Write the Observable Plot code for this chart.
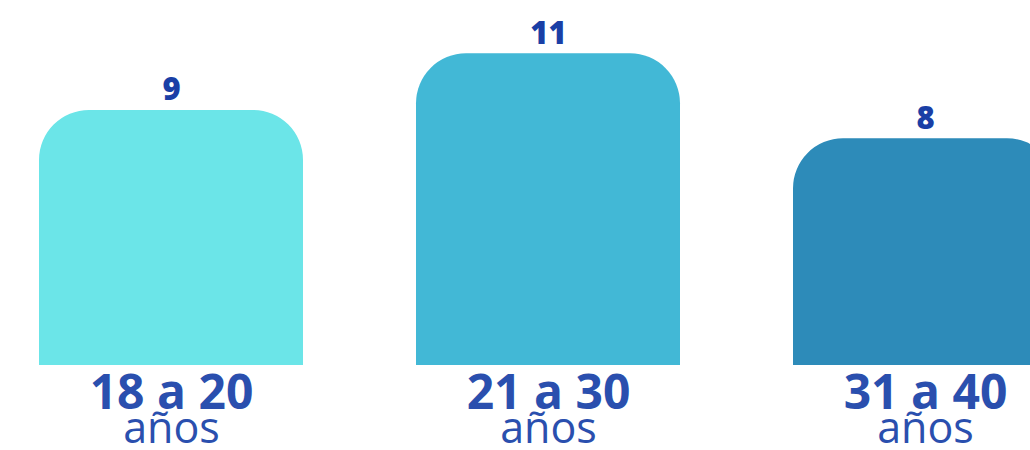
<!DOCTYPE html>
<html>
<head>
<meta charset="utf-8">
<script src="https://cdn.jsdelivr.net/npm/d3@7"></script>
<script src="https://cdn.jsdelivr.net/npm/@observablehq/plot@0.6"></script>
<style>
  html, body { margin: 0; padding: 0; background: #ffffff; overflow: hidden; }
  #chart svg { display: block; }
</style>
</head>
<body>
<div id="chart"></div>
<script>
const categories = ["18 a 20", "21 a 30", "31 a 40"];
const unitLabel = "años";
const values = [9, 11, 8];
const barColors = ["#6BE5E8", "#42B8D6", "#2D8BB9"];

const data = categories.map((c, i) => ({category: c, value: values[i]}));

const chart = Plot.plot({
  width: 1030,
  height: 450,
  margin: 0,
  style: {fontFamily: "'Open Sans', sans-serif", background: "#ffffff", overflow: "hidden"},
  x: {domain: categories, range: [38, 1058.6], paddingInner: 0.3, paddingOuter: 0, axis: null},
  y: {domain: [0, 11], range: [365, 53.3], axis: null},
  color: {domain: categories, range: barColors},
  marks: [
    Plot.barY(data, {x: "category", y: "value", fill: "category", ry1: 50}),
    Plot.text(data, {x: "category", y: "value", text: d => String(d.value), lineAnchor: "bottom", dy: -10,
      fontSize: 31, fontWeight: 800, fill: "#1A3FA6"}),
    Plot.text(data, {x: "category", y: () => 0, text: "category", lineAnchor: "bottom", dy: 43,
      fontSize: 48, fontWeight: 700, fill: "#2A4FAE"}),
    Plot.text(data, {x: "category", y: () => 0, text: () => unitLabel, lineAnchor: "bottom", dy: 77,
      fontSize: 43, fontWeight: 400, fill: "#2A4FAE"})
  ]
});
document.getElementById("chart").appendChild(chart);
</script>
</body>
</html>
